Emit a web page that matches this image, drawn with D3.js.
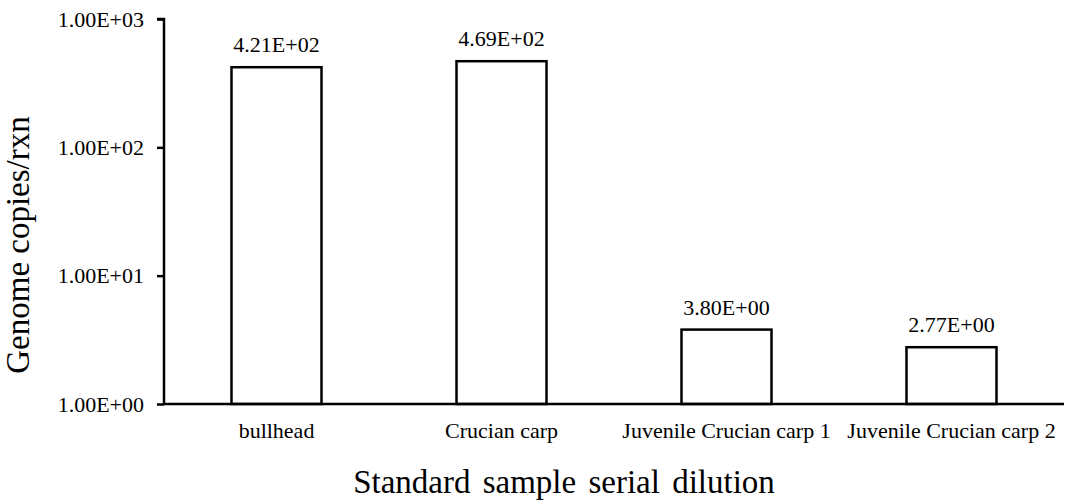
<!DOCTYPE html>
<html><head><meta charset="utf-8">
<script src="https://cdn.jsdelivr.net/npm/d3@7"></script>
<style>body{margin:0;background:#fff;} text{font-family:"Liberation Serif","Times New Roman",serif;fill:#000;}</style>
</head><body>
<svg id="chart" width="1065" height="500"></svg>
<script>
const categories = ["bullhead", "Crucian carp", "Juvenile Crucian carp 1", "Juvenile Crucian carp 2"];
const values = [421, 469, 3.80, 2.77];
const valueLabels = ["4.21E+02", "4.69E+02", "3.80E+00", "2.77E+00"];
const yTicks = [1, 10, 100, 1000];
const yTickLabels = ["1.00E+00", "1.00E+01", "1.00E+02", "1.00E+03"];
const yTitle = "Genome copies/rxn";
const xTitle = "Standard sample serial dilution";

const svg = d3.select("#chart");
const x0 = 164, x1 = 1064, yTop = 19, yBot = 404;
const x = d3.scaleBand().domain(categories).range([x0, x1]).paddingInner(0.6).paddingOuter(0.3);
const y = d3.scaleLog().domain([1, 1000]).range([yBot, yTop]);
const serif = "'Liberation Serif','Times New Roman',serif";

// bars
svg.selectAll("rect.bar").data(values).enter().append("rect")
  .attr("x", (d, i) => x(categories[i]))
  .attr("y", d => y(d))
  .attr("width", x.bandwidth())
  .attr("height", d => yBot - y(d))
  .attr("fill", "#fff").attr("stroke", "#000").attr("stroke-width", 2.5);

// value labels
svg.selectAll("text.val").data(values).enter().append("text")
  .attr("x", (d, i) => x(categories[i]) + x.bandwidth() / 2)
  .attr("y", d => y(d) - 15)
  .attr("text-anchor", "middle").style("font-size", "22px").style("font-family", serif)
  .text((d, i) => valueLabels[i]);

// y axis
const yAxis = d3.axisLeft(y).tickValues(yTicks).tickFormat((d, i) => yTickLabels[i]).tickSize(7).tickPadding(13);
const gy = svg.append("g").attr("transform", `translate(${x0},0)`).call(yAxis).attr("font-family", serif);
gy.select(".domain").attr("stroke", "#000").attr("stroke-width", 2.5).attr("d", `M-7,${yTop}H0V${yBot}`);
gy.selectAll(".tick line").attr("stroke", "#000").attr("stroke-width", 2.5);
gy.selectAll(".tick text").style("font-size", "22px").style("font-family", serif).attr("fill", "#000");

// x axis
const xAxis = d3.axisBottom(x).tickSize(0).tickPadding(18);
const gx = svg.append("g").attr("transform", `translate(0,${yBot})`).call(xAxis).attr("font-family", serif);
gx.select(".domain").attr("stroke", "#000").attr("stroke-width", 2.5).attr("d", `M${x0},0H${x1}`);
gx.selectAll(".tick text").style("font-size", "22px").style("font-family", serif).attr("fill", "#000");

// titles
svg.append("text").attr("transform", "translate(18,245) rotate(-90)")
  .attr("text-anchor", "middle").attr("dominant-baseline", "central")
  .style("font-size", "33px").style("font-family", serif).text(yTitle);
svg.append("text").attr("x", 564).attr("y", 493)
  .attr("text-anchor", "middle").style("font-size", "33px").style("font-family", serif)
  .style("word-spacing", "4px").text(xTitle);
</script>
</body></html>
